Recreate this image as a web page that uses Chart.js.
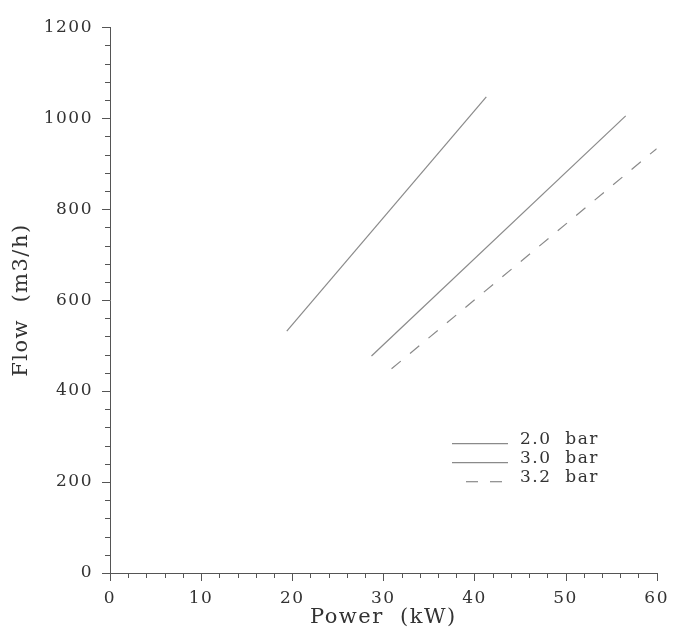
<!DOCTYPE html>
<html>
<head>
<meta charset="utf-8">
<script src="https://cdn.jsdelivr.net/npm/chart.js@4/dist/chart.umd.min.js"></script>
<style>
html,body{margin:0;padding:0;background:#fff;}
#wrap{width:684px;height:634px;position:relative;}
</style>
</head>
<body>
<div id="wrap"><canvas id="c" width="684" height="634"></canvas></div>
<script>
// Data
const seriesLabels = ['2.0  bar', '3.0  bar', '3.2  bar'];
const power20 = [19.4, 41.3];
const flow20  = [532, 1047];
const power30 = [28.7, 56.6];
const flow30  = [477, 1005];
const power32 = [30.9, 60.0];
const flow32  = [449, 933];
const xTicks = [0, 10, 20, 30, 40, 50, 60];
const yTicks = [0, 200, 400, 600, 800, 1000, 1200];

const pts = (xs, ys) => xs.map((x, i) => ({x: x, y: ys[i]}));

const FONT = 'DejaVu Serif';
const TXT = '#333';
const AX = '#555';

const spacingPlugin = {
  id: 'spacing',
  beforeDraw(chart) { chart.ctx.letterSpacing = '1.5px'; },
  beforeLayout(chart) { chart.ctx.letterSpacing = '1.5px'; }
};

const minorTicks = {
  id: 'minorTicks',
  afterDraw(chart) {
    const ctx = chart.ctx;
    const xs = chart.scales.x, ys = chart.scales.y;
    const ca = chart.chartArea;
    ctx.save();
    ctx.strokeStyle = AX;
    ctx.lineWidth = 1;
    ctx.beginPath();
    for (let v = ys.min; v <= ys.max + 1e-6; v += 40) {
      const p = Math.round(ys.getPixelForValue(v)) + 0.5;
      const len = (v % 200 === 0) ? 8 : 5;
      ctx.moveTo(ca.left - len, p);
      ctx.lineTo(ca.left, p);
    }
    for (let v = xs.min; v <= xs.max + 1e-6; v += 2) {
      const p = Math.round(xs.getPixelForValue(v)) + 0.5;
      const len = (v % 10 === 0) ? 8 : 5;
      ctx.moveTo(p, ca.bottom);
      ctx.lineTo(p, ca.bottom + len);
    }
    ctx.stroke();
    ctx.restore();
  }
};

const legendPlugin = {
  id: 'customLegend',
  afterDraw(chart) {
    const ctx = chart.ctx;
    const ca = chart.chartArea;
    ctx.save();
    ctx.letterSpacing = '1.5px';
    ctx.font = '17px "' + FONT + '"';
    ctx.fillStyle = TXT;
    ctx.textBaseline = 'middle';
    ctx.textAlign = 'left';
    const x0 = ca.left + 342, x1 = ca.left + 398, tx = ca.left + 410;
    const rows = [ca.top + 412, ca.top + 431, ca.top + 450];
    chart.data.datasets.forEach((ds, i) => {
      ctx.strokeStyle = ds.borderColor;
      ctx.lineWidth = ds.borderWidth;
      ctx.setLineDash(ds.borderDash || []);
      ctx.beginPath();
      const ly = rows[i] + 4.5;
      if (ds.borderDash && ds.borderDash.length) {
        ctx.moveTo(x0 + 14, ly); ctx.lineTo(x1, ly);
      } else {
        ctx.moveTo(x0, ly); ctx.lineTo(x1, ly);
      }
      ctx.stroke();
      ctx.setLineDash([]);
      ctx.fillText(ds.label, tx, rows[i]);
    });
    ctx.restore();
  }
};

new Chart(document.getElementById('c'), {
  type: 'scatter',
  data: {
    datasets: [
      {label: seriesLabels[0], data: pts(power20, flow20), showLine: true, borderColor: '#8a8a8a', borderWidth: 1.2, pointRadius: 0, borderDash: []},
      {label: seriesLabels[1], data: pts(power30, flow30), showLine: true, borderColor: '#8a8a8a', borderWidth: 1.2, pointRadius: 0, borderDash: []},
      {label: seriesLabels[2], data: pts(power32, flow32), showLine: true, borderColor: '#8a8a8a', borderWidth: 1.2, pointRadius: 0, borderDash: [12, 12]}
    ]
  },
  options: {
    responsive: false,
    animation: false,
    devicePixelRatio: 1,
    layout: {padding: {left: 0, right: 27, top: 22, bottom: 0}},
    plugins: {legend: {display: false}, tooltip: {enabled: false}},
    scales: {
      x: {
        type: 'linear', min: xTicks[0], max: xTicks[xTicks.length - 1],
        afterFit(s) { s.height = 61; },
        afterBuildTicks(s) { s.ticks = xTicks.map(v => ({value: v})); },
        grid: {display: true, drawOnChartArea: false, drawTicks: false},
        border: {display: true, color: AX, width: 1},
        ticks: {color: TXT, padding: 15, maxRotation: 0, font: {family: FONT, size: 17}, callback: v => String(v)},
        title: {display: true, text: 'Power  (kW)', color: TXT, font: {family: FONT, size: 21}, padding: {top: 0, bottom: 4}}
      },
      y: {
        type: 'linear', min: yTicks[0], max: yTicks[yTicks.length - 1],
        afterFit(s) { s.width = 110; },
        afterBuildTicks(s) { s.ticks = yTicks.map(v => ({value: v})); },
        grid: {display: true, drawOnChartArea: false, drawTicks: false},
        border: {display: true, color: AX, width: 1},
        ticks: {color: TXT, padding: 17, font: {family: FONT, size: 17}, callback: v => String(v)},
        title: {display: true, text: 'Flow  (m3/h)', color: TXT, font: {family: FONT, size: 21}, padding: {top: 9, bottom: 0}}
      }
    }
  },
  plugins: [spacingPlugin, minorTicks, legendPlugin]
});
</script>
</body>
</html>
